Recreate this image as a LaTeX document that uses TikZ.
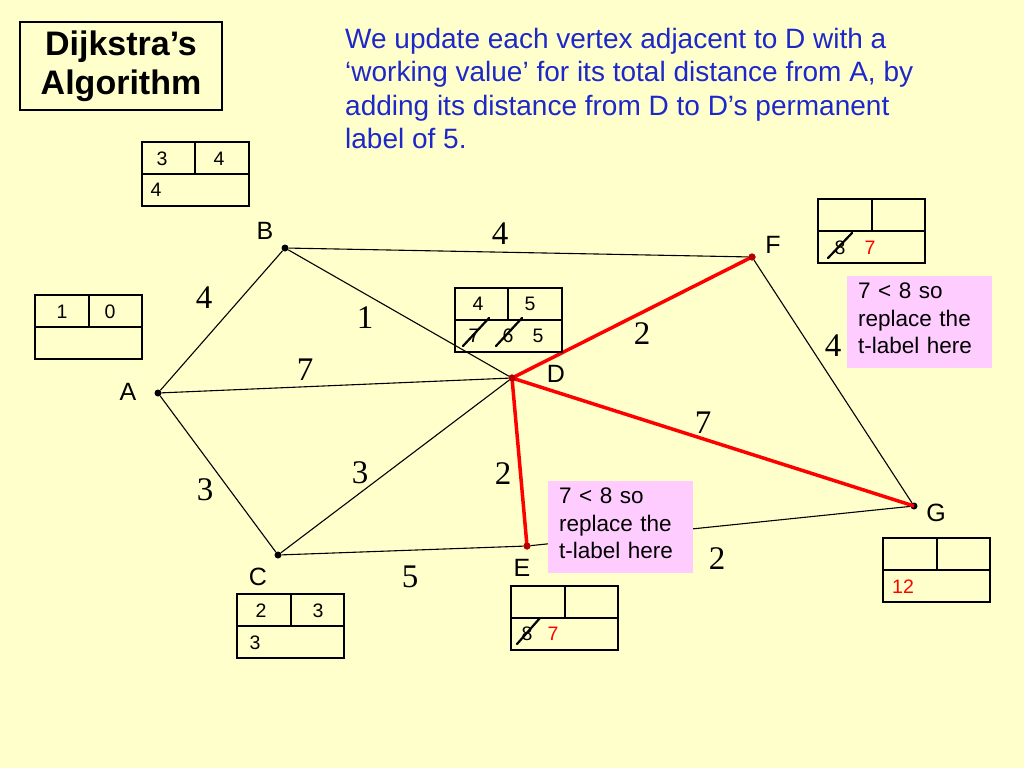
\documentclass[tikz,border=0pt]{standalone}
\usepackage{fontspec}
\setmainfont{Liberation Sans}
\newfontfamily\serf{Liberation Serif}
\definecolor{bgy}{RGB}{255,255,204}
\definecolor{pnk}{RGB}{255,204,255}
\definecolor{blu}{RGB}{30,40,200}
\definecolor{dred}{RGB}{180,0,0}
\begin{document}
\begin{tikzpicture}[x=1pt,y=-1pt,
  edge/.style={line width=1.1pt},
  redge/.style={line width=3.5pt,red},
  vtx/.style={circle,fill=black,inner sep=0pt,minimum size=7pt},
  vlab/.style={font=\fontsize{25}{28}\selectfont},
  elab/.style={font=\serf\fontsize{33}{35}\selectfont},
  bnum/.style={font=\fontsize{19.5}{22}\selectfont},
  pinkbox/.style={align=left,inner sep=0pt,font=\fontsize{22.5}{27.5}\selectfont,anchor=north west,text width=140pt},
  strike/.style={line width=2.2pt,line cap=round}]
\fill[bgy] (0,0) rectangle (1024,768);
\useasboundingbox (0,0) rectangle (1024,768);
% title
\node[draw,line width=1.2pt,minimum width=202pt,minimum height=88pt,align=center,font=\bfseries\fontsize{34}{39}\selectfont] (title) at (121,66) {Dijkstra’s\\Algorithm};
\node[anchor=north west,align=left,inner sep=0pt,text=blu,font=\fontsize{28}{33.5}\selectfont] (txt) at (345,28) {We update each vertex adjacent to D with a\\‘working value’ for its total distance from A, by\\adding its distance from D to D’s permanent\\label of 5.};
% vertices
\node[vtx] (A) at (158,393) {};
\node[vtx] (B) at (285,248) {};
\node[vtx] (C) at (278,555) {};
\node[vtx] (D) at (512,378) {};
\node[vtx,fill=dred] (E) at (527,546) {};
\node[vtx,fill=dred] (F) at (752,257) {};
\node[vtx] (G) at (914,506) {};
\draw[edge] (A)--(B) (A)--(D) (A)--(C) (B)--(D) (B)--(F) (C)--(D) (C)--(E) (E)--(G) (F)--(G);
\draw[redge] (D.center)--(F.center) (D.center)--(G.center) (D.center)--(E.center);
\node[vtx,fill=dred] at (D) {};
\node[vtx,fill=dred] at (E) {};
\node[vtx,fill=dred] at (F) {};
% vertex labels
\node[vlab] (lB) at (265,231) {B};
\node[vlab] (lF) at (773,245) {F};
\node[vlab] (lA) at (128,392) {A};
\node[vlab] (lD) at (556,374) {D};
\node[vlab] (lC) at (258,577) {C};
\node[vlab] (lE) at (522,568) {E};
\node[vlab] (lG) at (936,513) {G};
% edge labels
\node[elab] (e1) at (204,298) {4};
\node[elab] (e2) at (500,234) {4};
\node[elab] (e3) at (365,318) {1};
\node[elab] (e4) at (305,370) {7};
\node[elab] (e5) at (205,490) {3};
\node[elab] (e6) at (360,473) {3};
\node[elab] (e7) at (503,474) {2};
\node[elab] (e8) at (410,577) {5};
\node[elab] (e9) at (642,334) {2};
\node[elab] (e10) at (833,346) {4};
\node[elab] (e11) at (703,423) {7};
\node[elab] (e12) at (717,559) {2};
% boxes
\newcommand{\lbox}[3]{%
  \draw[line width=1.1pt] (#1,#2) rectangle ++(107,64);
  \draw[line width=1.1pt] (#1,#2+32) -- ++(107,0);
  \draw[line width=1.1pt] (#3,#2) -- ++(0,32);}
\lbox{35}{295}{89}
\node[bnum] (a1) at (62,312) {1}; \node[bnum] (a2) at (110,312) {0};
\lbox{142}{142}{195}
\node[bnum] (b1) at (162,159) {3}; \node[bnum] (b2) at (219,159) {4}; \node[bnum] (b3) at (156,190) {4};
\lbox{455}{288}{508}
\node[bnum] (d1) at (478,304) {4}; \node[bnum] (d2) at (530,304) {5};
\node[bnum] (d3) at (474,336) {7}; \node[bnum] (d4) at (508,336) {6}; \node[bnum] (d5) at (538,336) {5};
\draw[strike] (463,346)--(489,318) (496,346)--(522,318);
\lbox{818}{199}{872}
\node[bnum] (f1) at (840,248) {8}; \node[bnum,red] (f2) at (870,248) {7};
\draw[strike] (828,258)--(852,233);
\lbox{511}{586}{565}
\node[bnum] (g1) at (527,634) {8}; \node[bnum,red] (g2) at (553,634) {7};
\draw[strike] (517,644)--(540,618);
\lbox{883}{538}{937}
\node[bnum,red] (h1) at (903,587) {12};
\lbox{237}{594}{291}
\node[bnum] (c1) at (261,611) {2}; \node[bnum] (c2) at (318,611) {3}; \node[bnum] (c3) at (255,643) {3};
% pink notes
\fill[pnk] (847,276) rectangle (992,368);
\node[pinkbox] (p1) at (858,283) {7 < 8 so\\replace the\\t-label here};
\fill[pnk] (548,481) rectangle (693,573);
\node[pinkbox] (p2) at (559,488) {7 < 8 so\\replace the\\t-label here};
\end{tikzpicture}
\end{document}
